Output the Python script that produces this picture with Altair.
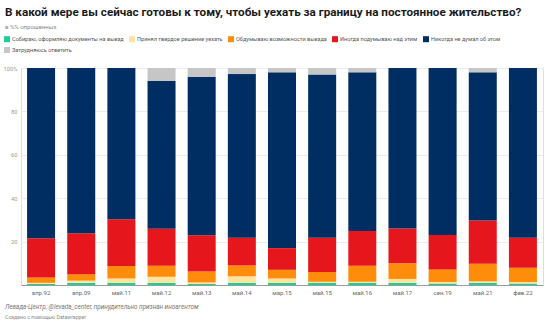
import altair as alt
import pandas as pd

periods = ["апр.92", "апр.09", "май.11", "май.12", "май.13", "май.14", "мар.15",
           "май.15", "май.16", "май.17", "сен.19", "май.21", "фев.22"]
series = ["Собираю, оформляю документы на выезд", "Принял твердое решение уехать",
          "Обдумываю возможности выезда", "Иногда подумываю над этим",
          "Никогда не думал об этом", "Затрудняюсь ответить"]
colors = ["#1ccf9a", "#ffe3a0", "#ff8c0a", "#e5171c", "#002d62", "#c6c6c6"]

collecting = [0.5, 1.0, 1.0, 1.0, 0.5, 1.0, 1.0, 1.0, 1.0, 1.0, 0.7, 1.0, 0.7]
decided = [0.5, 1.0, 2.0, 2.8, 0.7, 3.0, 2.0, 0.5, 0.5, 1.8, 0.7, 0.7, 0.7]
considering = [2.5, 3.0, 5.8, 5.1, 5.0, 5.0, 4.0, 4.5, 7.4, 7.2, 5.8, 8.1, 6.6]
sometimes = [18.0, 18.8, 21.5, 17.0, 16.7, 12.8, 10.0, 15.8, 16.0, 16.0, 15.8, 19.9, 13.8]
hard_to_say = [0, 0, 0, 6.0, 4.0, 2.8, 2.0, 3.0, 2.0, 0, 0, 2.0, 0]
never = [round(100 - a - b - c - d - e, 1) for a, b, c, d, e in
         zip(collecting, decided, considering, sometimes, hard_to_say)]

values = [collecting, decided, considering, sometimes, never, hard_to_say]

rows = []
for si, (s, vals) in enumerate(zip(series, values)):
    for p, v in zip(periods, vals):
        rows.append({"period": p, "series": s, "value": v, "idx": si})
df = pd.DataFrame(rows)

title_text = "В какой мере вы сейчас готовы к тому, чтобы уехать за границу на постоянное жительство?"
subtitle_text = "в %% опрошенных"
source_text = "Левада-Центр, @levada_center, принудительно признан иноагентом"
credit_text = "Создано с помощью Datawrapper"

FONT = "Roboto"

bars = alt.Chart(df).mark_bar(size=28).encode(
    x=alt.X("period:N", sort=periods, title=None,
            scale=alt.Scale(paddingInner=0.3, paddingOuter=0.15),
            axis=alt.Axis(labelAngle=0, labelFontSize=6, labelColor="#666666",
                          labelFont=FONT, ticks=False, domain=True,
                          domainColor="#9a9a9a", domainWidth=1, labelPadding=4)),
    y=alt.Y("value:Q", stack="zero", title=None,
            scale=alt.Scale(domain=[0, 100], nice=False),
            axis=alt.Axis(values=[20, 40, 60, 80, 100], labelFontSize=5.8,
                          labelColor="#999999", labelFont=FONT, ticks=False,
                          domain=False, gridColor="#ebebeb", gridWidth=1,
                          labelPadding=4,
                          labelExpr="datum.value == 100 ? '100%' : datum.label")),
    color=alt.Color("series:N", sort=series,
                    scale=alt.Scale(domain=series, range=colors),
                    legend=alt.Legend(title=None, orient="none", legendX=-17,
                                      legendY=-32, columns=5, direction="horizontal",
                                      symbolType="square", symbolSize=36,
                                      symbolStrokeWidth=0, labelFontSize=5.6,
                                      labelColor="#555555", labelFont=FONT,
                                      columnPadding=5, rowPadding=4,
                                      labelOffset=2, labelLimit=300)),
    order=alt.Order("idx:Q", sort="ascending"),
)


def text_layer(txt, x, y, size, color, weight="normal", style="normal"):
    return alt.Chart(pd.DataFrame({"t": [txt]})).mark_text(
        align="left", baseline="middle", fontSize=size, font=FONT,
        fontWeight=weight, fontStyle=style, color=color,
    ).encode(text="t:N", x=alt.value(x), y=alt.value(y))


title = text_layer(title_text, -16, -56, 11.7, "#1a1a1a", weight="bold")
subtitle = text_layer(subtitle_text, -16, -41, 6, "#888888")
source = text_layer(source_text, -16, 239, 6.3, "#777777", style="italic")
credit = text_layer(credit_text, -16, 249, 5.2, "#888888")

chart = alt.layer(bars, title, subtitle, source, credit).properties(
    width=522, height=217,
    autosize=alt.AutoSizeParams(type="none"),
    padding={"left": 21, "top": 68, "right": 2, "bottom": 38},
).configure_view(stroke=None).configure(font=FONT)

chart.save("out.html", embed_options={"renderer": "svg", "actions": False})
